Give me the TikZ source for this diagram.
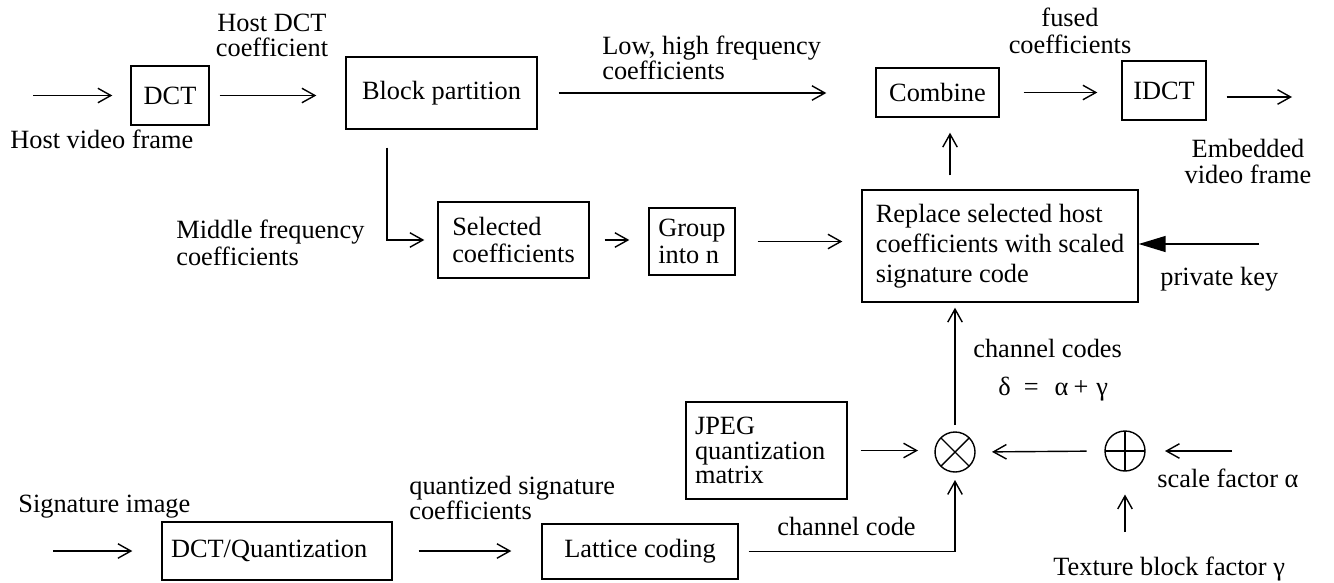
\documentclass[tikz,border=0pt]{standalone}
\usepackage{fontspec}
\setmainfont{Liberation Serif}
\usetikzlibrary{arrows.meta,calc}
\definecolor{ink}{HTML}{000000}
\tikzset{
  box/.style={draw=ink,line width=0.8pt,inner sep=0pt,align=left,text=ink},
  lbl/.style={inner sep=0pt,align=left,text=ink},
  tight/.style={font=\fontsize{15}{14}\selectfont},
  loose/.style={font=\fontsize{15}{17}\selectfont},
  arrow/.style={-{Straight Barb[length=2.6mm,width=2.9mm]},line width=0.8pt,color=ink},
  keyarrow/.style={-{Triangle[length=5.4mm,width=3.2mm]},line width=0.8pt,color=ink},
  op/.style={circle,draw=ink,line width=0.8pt,minimum size=0.8cm,inner sep=0pt,outer sep=0pt},
}
\begin{document}
\begin{tikzpicture}[x=0.02cm,y=-0.02cm,font=\fontsize{15}{15}\selectfont]
  \useasboundingbox (0,0) rectangle (1334,582);
  % host path
  \node[box,minimum width=1.56cm,minimum height=1.18cm] (dct) at (170,95.5) {DCT};
  \node[box,minimum width=3.82cm,minimum height=1.44cm] (block) at (441.5,93) {Block partition};
  \node[box,minimum width=2.46cm,minimum height=0.98cm] (comb) at (937.5,92.5) {Combine};
  \node[box,minimum width=1.68cm,minimum height=1.18cm] (idct) at (1164,90.5) {IDCT};
  \node[box,minimum width=3.02cm,minimum height=1.52cm] (sel) at (513.5,240) {Selected\\coefficients};
  \node[box,minimum width=1.72cm,minimum height=1.34cm] (grp) at (692,241.5) {Group\\into n};
  \node[box,loose,minimum width=5.52cm,minimum height=2.24cm] (repl) at (1000,246) {Replace selected host\\coefficients with scaled\\signature code};
  % signature path
  \node[box,tight,text width=2.86cm,inner xsep=0.18cm,minimum height=1.94cm] (jpeg) at (766.5,450.5) {JPEG\\quantization\\matrix};
  \node[box,text width=4.24cm,inner xsep=0.18cm,minimum height=1.16cm] (dctq) at (277,551) {DCT/Quantization};
  \node[box,minimum width=3.92cm,minimum height=1.1cm] (lat) at (640,551.5) {Lattice coding};
  \node[op] (mul) at (955,452) {};
  \node[op] (add) at (1125,451) {};
  \draw[line width=0.8pt] (mul.north west) -- (mul.south east) (mul.north east) -- (mul.south west);
  \draw[line width=0.8pt] (add.north) -- (add.south) (add.west) -- (add.east);

  % labels
  \node[lbl,anchor=base west] (hostlbl) at (10,148) {Host video frame};
  \node[lbl,tight,align=center,anchor=north] (dctlbl) at (272,14) {Host DCT\\coefficient};
  \node[lbl,tight,anchor=north west] (lowlbl) at (602,36) {Low, high frequency\\coefficients};
  \node[lbl,align=center,anchor=north] (fusedlbl) at (1070,8) {fused\\coefficients};
  \node[lbl,align=center,anchor=north] (emblbl) at (1248,139) {Embedded\\video frame};
  \node[lbl,anchor=north west] (midlbl) at (176,220) {Middle frequency\\coefficients};
  \node[lbl,anchor=base west] (keylbl) at (1160,285) {private key};
  \node[lbl,anchor=base west] (codeslbl) at (973,357) {channel codes};
  \node[lbl,anchor=base west] (deltalbl) at (998,395) {δ\hspace{0.5em}=\hspace{0.6em}α\hspace{0.2em}+\hspace{0.3em}γ};
  \node[lbl,tight,anchor=north west] (quantlbl) at (409,476) {quantized signature\\coefficients};
  \node[lbl,anchor=base west] (siglbl) at (18,512) {Signature image};
  \node[lbl,anchor=base west] (codelbl) at (777,535) {channel code};
  \node[lbl,anchor=base west] (scalelbl) at (1157,487) {scale factor α};
  \node[lbl,anchor=base west] (texlbl) at (1053,575) {Texture block factor γ};

  % loose ends
  \coordinate (hostin) at (33,95.5);
  \coordinate (hostout) at (1292,97);
  \coordinate (keyin) at (1259,244);
  \coordinate (sigin) at (53,551);
  \coordinate (scalein) at (1232,451);
  \coordinate (texin) at (1125,532);
  \coordinate (tap) at ($(block.south)+(-54.5,0)$);
  \coordinate (rise) at ($(comb.south)+(12.5,0)$);

  % connectors
  \draw[arrow,shorten >=3.6mm] (hostin) -- (dct.west);
  \draw[arrow,shorten <=2mm,shorten >=5.8mm] (dct.east) -- (dct.east -| block.west);
  \draw[arrow,shorten <=4.2mm,shorten >=9.8mm] (block.east) -- (block.east -| comb.west);
  \draw[arrow,shorten <=4.8mm,shorten >=4.8mm] (comb.east) -- (comb.east -| idct.west);
  \draw[arrow,shorten <=4mm] (idct.east |- hostout) -- (hostout);
  \draw[arrow,shorten <=3.6mm,shorten >=2.6mm] (tap) |- (sel.west);
  \draw[arrow,shorten <=3mm,shorten >=3.8mm] (sel.east) -- (sel.east -| grp.west);
  \draw[arrow,shorten <=4.4mm,shorten >=3.8mm] (grp.east) -- (grp.east -| repl.west);
  \draw[keyarrow] (keyin) -- (keyin -| repl.east);
  \draw[arrow,shorten <=2.8mm,shorten >=3mm] (rise |- repl.north) -- (rise);
  \draw[arrow,shorten <=1.4mm,shorten >=1mm] (mul.north) -- (mul.north |- repl.south);
  \draw[arrow,shorten <=2.6mm,shorten >=3.4mm] (jpeg.east) -- (jpeg.east -| mul.west);
  \draw[arrow,shorten <=3.7mm,shorten >=3.4mm] (add.west) -- (mul.east);
  \draw[arrow,shorten >=4mm] (scalein) -- (add.east);
  \draw[arrow,shorten >=4.7mm] (texin) -- (add.south);
  \draw[arrow,shorten <=2mm,shorten >=1.6mm] (lat.east) -| (mul.south);
  \draw[arrow,shorten >=5.8mm] (sigin) -- (dctq.west);
  \draw[arrow,shorten <=5.2mm,shorten >=6mm] (dctq.east) -- (dctq.east -| lat.west);
\end{tikzpicture}
\end{document}
